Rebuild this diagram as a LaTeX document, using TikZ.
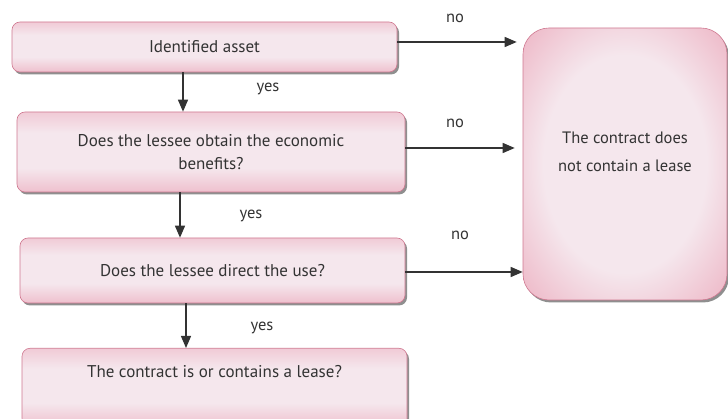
\documentclass[tikz,border=0pt]{standalone}
\usepackage{fontspec}
\setmainfont{PT Sans}
\usetikzlibrary{arrows.meta,shadows}
\definecolor{pinkL}{HTML}{F5E7ED}
\definecolor{pinkM}{HTML}{ECAEBF}
\definecolor{pinkD}{HTML}{DF7F98}
\definecolor{pinkB}{HTML}{CF7890}
\definecolor{txt}{HTML}{333333}
\pgfdeclareradialshading{pinkglow}{\pgfpoint{0bp}{0bp}}{color(0bp)=(pinkL); color(20bp)=(pinkL); color(38bp)=(pinkM); color(52bp)=(pinkD); color(72bp)=(pinkD)}
\pgfdeclareverticalshading{pinkband}{100bp}{color(0bp)=(pinkD); color(18bp)=(pinkM); color(40bp)=(pinkL); color(62bp)=(pinkL); color(88bp)=(pinkM); color(100bp)=(pinkM)}
\tikzset{
  box/.style={draw=pinkB, line width=0.6pt, rounded corners=8pt, shading=pinkband,
    drop shadow={shadow xshift=2pt, shadow yshift=-2.5pt, fill=black!55, opacity=0.8},
    text=txt, align=center, font=\fontsize{17}{23}\selectfont, inner sep=0pt},
  arr/.style={line width=1.3pt, draw=black!80, -{Triangle[length=12pt,width=10pt]}},
  lbl/.style={text=txt, font=\fontsize{16.5}{18}\selectfont, inner sep=0pt}
}
\begin{document}
\begin{tikzpicture}[x=1pt,y=-1pt]
\useasboundingbox (0,0) rectangle (728,419);
\node[box, minimum width=385pt, minimum height=50pt] (b1) at (204.5,47) {Identified asset};
\node[box, minimum width=388pt, minimum height=80pt] (b2) at (211,152) {Does the lessee obtain the economic\\benefits?};
\node[box, minimum width=385pt, minimum height=65pt] (b3) at (212.5,270.5) {Does the lessee direct the use?};
\node[box, minimum width=385pt, anchor=north, inner ysep=17pt, text depth=32pt] (b4) at (214.5,348) {The contract is or contains a lease?};
\node[box, shading=pinkglow, rounded corners=26pt, minimum width=204pt, minimum height=272pt] (big) at (625,164) {};
\node[text=txt, align=center, font=\fontsize{16.5}{28}\selectfont] (bigtxt) at (625,152) {The contract does\\not contain a lease};

\draw[arr, shorten >=6pt] ([yshift=5pt]b1.east) -- ([yshift=5pt]b1.east -| big.west);
\draw[arr, shorten >=8pt] ([yshift=4pt]b2.east) -- ([yshift=4pt]b2.east -| big.west);
\draw[arr, shorten >=0pt] ([yshift=-1.5pt]b3.east) -- ([yshift=-1.5pt]b3.east -| big.west);

\draw[arr] ([xshift=-21.5pt]b1.south) -- ([xshift=-21.5pt]b1.south |- b2.north);
\draw[arr] ([xshift=-31pt]b2.south) -- ([xshift=-31pt]b2.south |- b3.north);
\draw[arr] ([xshift=-26.5pt]b3.south) -- ([xshift=-26.5pt]b3.south |- b4.north);

\node[lbl] (n1) at (455,18) {no};
\node[lbl] (n2) at (455,123) {no};
\node[lbl] (n3) at (460,235) {no};
\node[lbl] (y1) at (268,89) {yes};
\node[lbl] (y2) at (251,216) {yes};
\node[lbl] (y3) at (262,328) {yes};
\end{tikzpicture}
\end{document}
